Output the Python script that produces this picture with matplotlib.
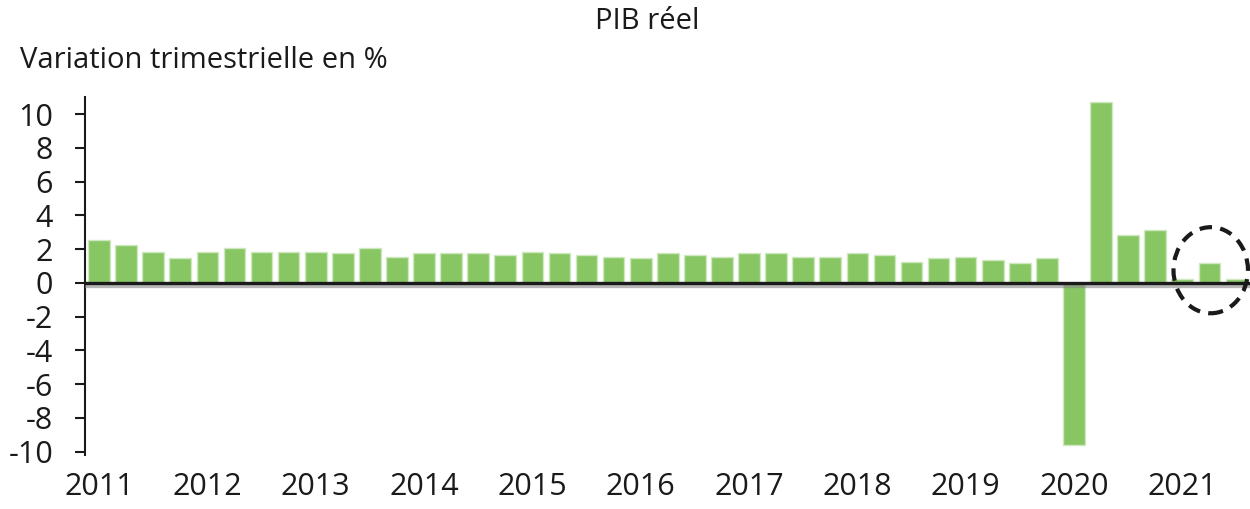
import matplotlib
matplotlib.use("Agg")
import matplotlib.pyplot as plt
import matplotlib.patheffects as pe
from matplotlib.patches import Ellipse
import numpy as np

plt.rcParams['font.family'] = ['Open Sans', 'DejaVu Sans']

years = ["2011", "2012", "2013", "2014", "2015", "2016",
         "2017", "2018", "2019", "2020", "2021"]
# PIB réel, variation trimestrielle en %, 2011T1 - 2021T3
growth = [2.55, 2.25, 1.85, 1.45,
          1.85, 2.05, 1.85, 1.85,
          1.85, 1.75, 2.05, 1.55,
          1.75, 1.75, 1.75, 1.65,
          1.85, 1.75, 1.65, 1.55,
          1.45, 1.75, 1.65, 1.55,
          1.75, 1.75, 1.55, 1.55,
          1.75, 1.65, 1.25, 1.45,
          1.55, 1.35, 1.15, 1.45,
          -9.6, 10.7, 2.85, 3.15,
          0.22, 1.15, 0.22]
yticks = [-10, -8, -6, -4, -2, 0, 2, 4, 6, 8, 10]

x = np.arange(len(growth))

fig = plt.figure(figsize=(12.5, 5.09), dpi=100)
ax = fig.add_axes([0.068, 0.106, 0.932, 0.703])

ax.bar(x, growth, width=0.8, color="#88c664", edgecolor="#cfe8c0",
       linewidth=1.0, zorder=2)

zero = ax.axhline(0, color="#1a1a1a", lw=2.4, zorder=3)
zero.set_path_effects([pe.SimpleLineShadow(offset=(0, -2.2), shadow_color="#888888", alpha=0.6),
                       pe.Normal()])

# circle around the latest quarters
circ = Ellipse((41.05, 0.75), width=2.75, height=5.1, fill=False,
               edgecolor="#1a1a1a", lw=3.0, linestyle=(0, (3.0, 2.0)),
               zorder=4, clip_on=False)
ax.add_patch(circ)

ax.set_xlim(-0.52, 42.5)
ax.set_ylim(-10.2, 11)

ax.set_yticks(yticks)
ax.set_yticklabels([str(v) for v in yticks])
ax.set_xticks(x[::4])
ax.set_xticklabels(years)

for s in ["top", "right", "bottom"]:
    ax.spines[s].set_visible(False)
ax.spines["left"].set_linewidth(1.5)
ax.spines["left"].set_color("#1a1a1a")

ax.tick_params(axis="y", length=7, width=1.5, pad=16, labelsize=22,
               colors="#1a1a1a")
ax.tick_params(axis="x", length=0, pad=12, labelsize=22, colors="#1a1a1a")

fig.text(0.518, 0.957, "PIB réel", ha="center", va="center",
         fontsize=21, color="#1a1a1a")
fig.text(0.016, 0.882, "Variation trimestrielle en %", ha="left",
         va="center", fontsize=21, color="#1a1a1a")

fig.savefig("out.png", dpi=100)
